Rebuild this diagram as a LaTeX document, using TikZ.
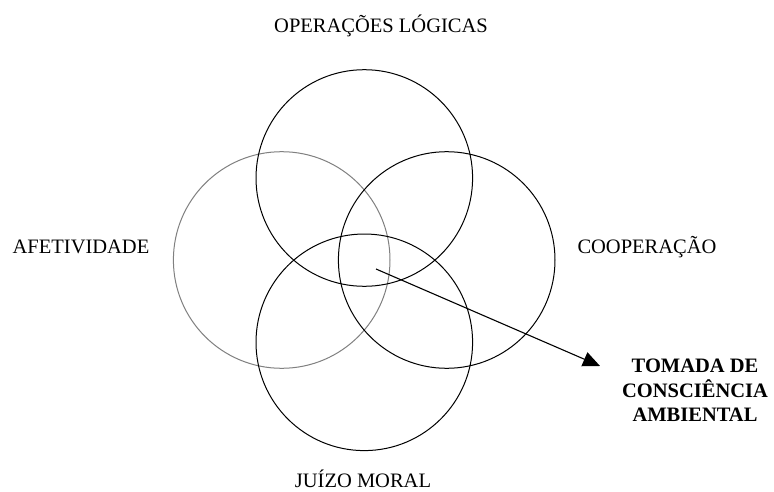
\documentclass[tikz,border=0pt]{standalone}
\usepackage{fontspec}
\setmainfont{Liberation Serif}
\usetikzlibrary{arrows.meta}
\begin{document}
\begin{tikzpicture}[x=1pt,y=-1pt,
  ring/.style={draw=black,line width=1pt},
  ringgray/.style={draw=black!50,line width=1pt},
  lbl/.style={inner sep=0pt,anchor=base,font=\fontsize{20.5}{24.6}\selectfont},
  blbl/.style={inner sep=0pt,align=center,font=\fontsize{20.5}{24.6}\selectfont\bfseries},
  conn/.style={line width=1.1pt,-{Triangle[length=17pt,width=15pt]}}]
\useasboundingbox (0,0) rectangle (774,492);
\fill[white] (0,0) rectangle (774,492);
\draw[ringgray] (281.7,260) circle[radius=108.3];
\draw[ring] (364.3,178) circle[radius=108.3] node (top) {};
\draw[ring] (446.7,260) circle[radius=108.3] node (right) {};
\draw[ring] (364.3,342.3) circle[radius=108.3] node (bottom) {};
\node[lbl] (ol) at (381,32.5) {OPERAÇÕES LÓGICAS};
\node[lbl] (af) at (81,253) {AFETIVIDADE};
\node[lbl] (co) at (647,253) {COOPERAÇÃO};
\node[lbl] (jm) at (363,487.5) {JUÍZO MORAL};
\node[blbl] (tca) at (695,390.5) {TOMADA DE\\CONSCIÊNCIA\\AMBIENTAL};
\coordinate (start) at (376,269);
\coordinate (tip) at (600,366);
\draw[conn] (start) -- (tip);
\end{tikzpicture}
\end{document}
